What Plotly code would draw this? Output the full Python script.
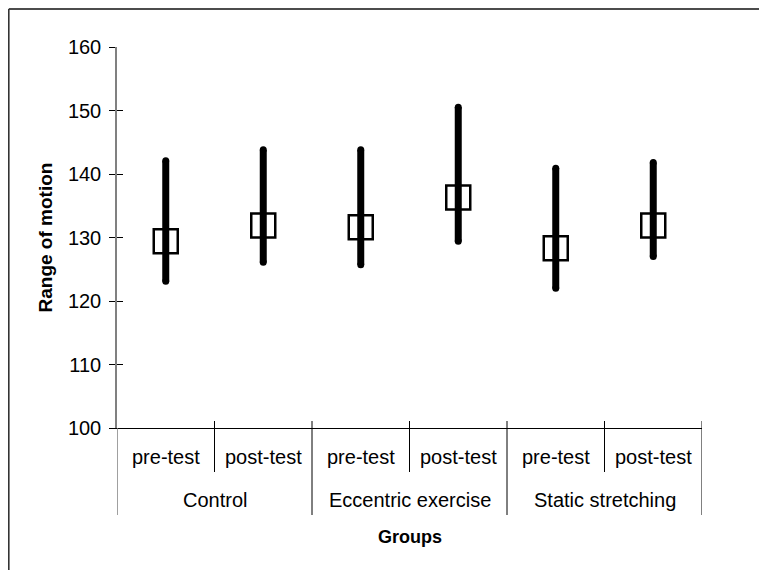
import plotly.graph_objects as go

# ---- data ----
groups = ["Control", "Eccentric exercise", "Static stretching"]
phases = ["pre-test", "post-test"]
means = [129.4, 131.9, 131.6, 136.3, 128.3, 131.9]
lows = [123.1, 126.1, 125.7, 129.4, 122.0, 127.0]
highs = [142.1, 143.8, 143.8, 150.5, 140.9, 141.8]
y_ticks = [100, 110, 120, 130, 140, 150, 160]

sub_labels = [p for g in groups for p in phases]
xpos = list(range(len(sub_labels)))

# ---- layout geometry (page pixels; page body has an 8px margin) ----
OFF = 8
W, H = 767 - OFF, 570 - OFF
L, R, T, B = 117 - OFF, 702 - OFF, 47 - OFF, 428 - OFF
FONT = "Liberation Sans, Arial, sans-serif"


def py(p):
    """page y pixel -> paper y"""
    return (B - (p - OFF)) / (B - T)


def px(p):
    """page x pixel -> paper x"""
    return ((p - OFF) - L) / (R - L)


fig = go.Figure()

# range lines with round caps
lx, ly = [], []
for x, lo, hi in zip(xpos, lows, highs):
    lx += [x, x, None]
    ly += [lo, hi, None]
fig.add_trace(go.Scatter(
    x=lx, y=ly, mode="lines+markers",
    line=dict(color="black", width=7),
    marker=dict(color="black", size=7, symbol="circle"),
    hoverinfo="skip", showlegend=False, cliponaxis=False,
))
# mean markers
fig.add_trace(go.Scatter(
    x=xpos, y=means, mode="markers",
    marker=dict(symbol="square-open", size=24, color="black",
                line=dict(color="black", width=2.5)),
    showlegend=False,
))
# invisible trace for overlay axis (crossing ticks)
fig.add_trace(go.Scatter(x=[xpos[0]], y=[means[0]], yaxis="y2",
                         mode="markers", marker=dict(opacity=0),
                         showlegend=False, hoverinfo="skip"))

shapes = []
n = len(sub_labels)
for i in range(n + 1):
    b = i - 0.5
    is_group = (i % len(phases) == 0)
    if i == 0:
        shapes.append(dict(type="line", xref="x", yref="paper", x0=b, x1=b,
                           y0=0, y1=py(515), line=dict(color="#808080", width=1.5)))
        continue
    shapes.append(dict(type="line", xref="x", yref="paper", x0=b, x1=b,
                       y0=py(421), y1=py(515) if is_group else py(472),
                       line=dict(color="black", width=1)))
# outer frame (top and left)
shapes.append(dict(type="line", xref="paper", yref="paper", x0=px(8.8), x1=px(767),
                   y0=py(9), y1=py(9), line=dict(color="#111", width=1.6)))
shapes.append(dict(type="line", xref="paper", yref="paper", x0=px(8.8), x1=px(8.8),
                   y0=py(9), y1=py(570), line=dict(color="#333", width=1.6)))

annotations = []
for x, lab in zip(xpos, sub_labels):
    annotations.append(dict(x=x, y=py(457), xref="x", yref="paper", text=lab,
                            xanchor="center", yanchor="middle",
                            showarrow=False, font=dict(size=20, color="black", family=FONT)))
for gi, g in enumerate(groups):
    cx = gi * len(phases) + (len(phases) - 1) / 2
    annotations.append(dict(x=cx, y=py(500), xref="x", yref="paper", text=g,
                            xanchor="center", yanchor="middle",
                            showarrow=False, font=dict(size=20, color="black", family=FONT)))
annotations.append(dict(x=0.5, y=py(537), xref="paper", yref="paper", text="<b>Groups</b>",
                        xanchor="center", yanchor="middle",
                        showarrow=False, font=dict(size=18, color="black", family=FONT)))
annotations.append(dict(x=px(45), y=py(237.5), xref="paper", yref="paper",
                        text="<b>Range of motion</b>", textangle=-90,
                        xanchor="center", yanchor="middle", showarrow=False,
                        font=dict(size=19, color="black", family=FONT)))

fig.update_layout(
    width=W, height=H,
    margin=dict(l=L, r=W - R, t=T, b=H - B, pad=0),
    paper_bgcolor="white", plot_bgcolor="white",
    font=dict(family=FONT, color="black"),
    xaxis=dict(range=[-0.5, n - 0.5], showline=True, linecolor="black", linewidth=1,
               showticklabels=False, ticks="", showgrid=False, zeroline=False, fixedrange=True),
    yaxis=dict(range=[100, 160], tickvals=y_ticks, ticks="outside", ticklen=6,
               tickcolor="black", tickwidth=1, showline=True, linecolor="#808080",
               linewidth=1.5, showgrid=False, zeroline=False, ticklabelstandoff=4,
               tickfont=dict(size=20, color="black", family=FONT)),
    yaxis2=dict(range=[100, 160], tickvals=y_ticks, overlaying="y", side="left",
                ticks="inside", ticklen=6, tickcolor="black", tickwidth=1,
                showticklabels=False, showline=False, showgrid=False, zeroline=False),
    shapes=shapes, annotations=annotations, showlegend=False,
)

fig.write_html("out.html")
